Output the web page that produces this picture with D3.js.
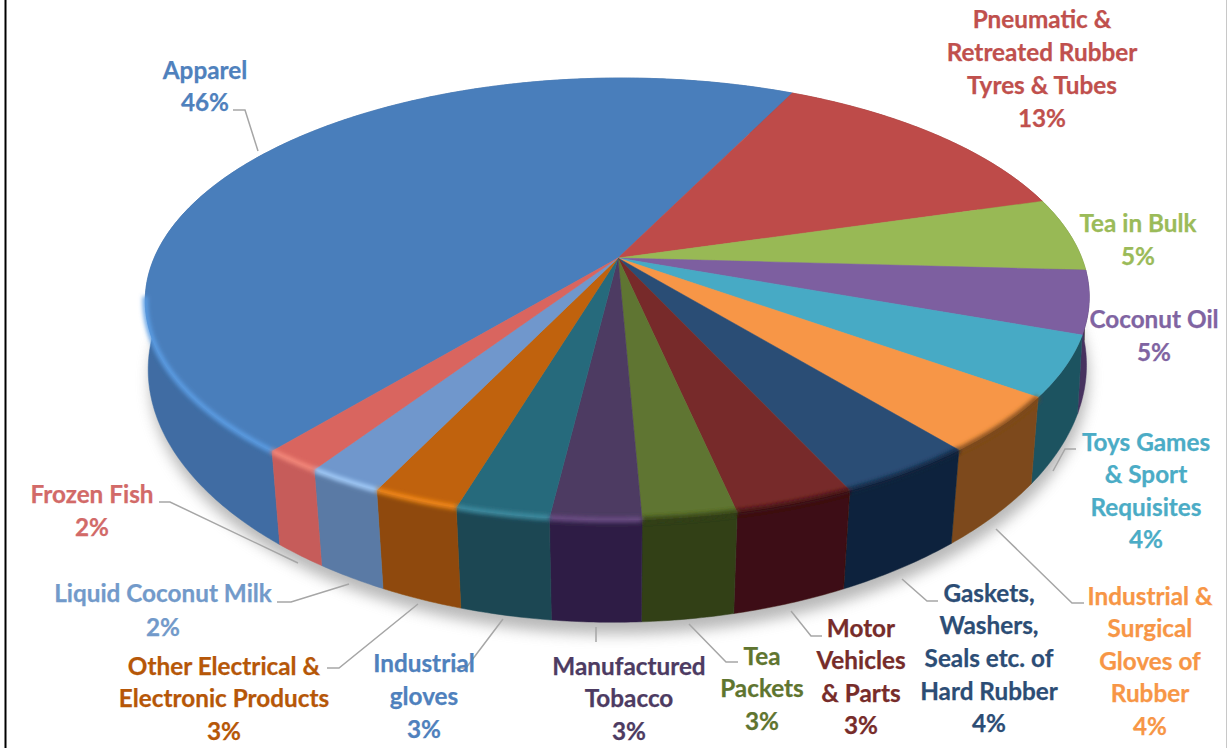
<!DOCTYPE html>
<html>
<head>
<meta charset="utf-8">
<script src="https://cdn.jsdelivr.net/npm/d3@7"></script>
<style>
  html, body { margin: 0; padding: 0; background: #fff; overflow: hidden; }
  text { font-family: Lato, "Open Sans", sans-serif; font-weight: 700; font-size: 24.3px; text-anchor: middle; stroke-width: 0.25px; }
</style>
</head>
<body>
<script>
const width = 1227,
  height = 748;

// clockwise from the Apparel slice
const categories = [
  "Apparel",
  "Pneumatic & Retreated Rubber Tyres & Tubes",
  "Tea in Bulk",
  "Coconut Oil",
  "Toys Games & Sport Requisites",
  "Industrial & Surgical Gloves of Rubber",
  "Gaskets, Washers, Seals etc. of Hard Rubber",
  "Motor Vehicles & Parts",
  "Tea Packets",
  "Manufactured Tobacco",
  "Industrial gloves",
  "Other Electrical & Electronic Products",
  "Liquid Coconut Milk",
  "Frozen Fish"
];
const values = [46.2, 13.4, 5.4, 4.6, 4.4, 4.13, 4.02, 3.45, 2.7, 2.6, 2.7, 2.5, 2.2, 1.7];

const topColors = ["#4a7ebb", "#be4b48", "#98b954", "#7d5fa0", "#46aac5", "#f79646", "#2c4d75", "#772c2a", "#5f7530", "#4d3b62", "#276a7c", "#c0620a", "#6f97cc", "#d9655f"];
const sideColors = ["#3f6ca3", "#8f3836", "#6f8a3c", "#46305e", "#1f5261", "#7d4a1a", "#10243c", "#3d1012", "#303f18", "#2e1f45", "#1b4653", "#8f4a0a", "#5a7aa5", "#c65c5a"];
const rimColors = ["#5c9fe6", null, null, null, null, null, null, null, null, "#6d4d86", "#3f8ea3", "#f58a1f", "#a4cdfa", "#f58a7c"];
const labelColors = ["#4f81bd", "#c0504d", "#9bbb59", "#8064a2", "#4bacc6", "#f79646", "#2c4d75", "#772c2a", "#5f7530", "#4d3b62", "#4f81bd", "#b65708", "#729aca", "#d26a68"];

// label placement: centre x, y of the first line, line step, wrapped lines
const labelLayout = [
  { x: 205, y: 70, step: 32, lines: ["Apparel", "46%"] },
  { x: 1042, y: 19, step: 33, lines: ["Pneumatic &", "Retreated Rubber", "Tyres & Tubes", "13%"] },
  { x: 1138, y: 223, step: 33, lines: ["Tea in Bulk", "5%"] },
  { x: 1154, y: 319, step: 33, lines: ["Coconut Oil", "5%"] },
  { x: 1146, y: 442, step: 32.5, lines: ["Toys Games", "& Sport", "Requisites", "4%"] },
  { x: 1150, y: 596, step: 32.5, lines: ["Industrial &", "Surgical", "Gloves of", "Rubber", "4%"] },
  { x: 989, y: 593, step: 32.7, lines: ["Gaskets,", "Washers,", "Seals etc. of", "Hard Rubber", "4%"] },
  { x: 861, y: 628, step: 32.5, lines: ["Motor", "Vehicles", "& Parts", "3%"] },
  { x: 762, y: 656, step: 32.5, lines: ["Tea", "Packets", "3%"] },
  { x: 629, y: 666, step: 32.5, lines: ["Manufactured", "Tobacco", "3%"] },
  { x: 424, y: 663, step: 33, lines: ["Industrial", "gloves", "3%"] },
  { x: 224, y: 666, step: 32.5, lines: ["Other Electrical &", "Electronic Products", "3%"] },
  { x: 163, y: 593, step: 34, lines: ["Liquid Coconut Milk", "2%"] },
  { x: 92, y: 494, step: 33, lines: ["Frozen Fish", "2%"] }
];
const leaderLines = [
  [[233, 110], [245, 110], [258, 151]],
  [[159, 502], [170, 502], [298, 563]],
  [[277, 602], [291, 602], [349, 584]],
  [[327, 668], [339, 668], [418, 604]],
  [[452, 668], [466, 668], [503, 619]],
  [[596, 627], [596, 642]],
  [[689, 624], [726, 662], [738, 662]],
  [[791, 611], [811, 636], [822, 636]],
  [[902, 579], [927, 601], [938, 601]],
  [[996, 529], [1072, 603], [1084, 603]],
  [[1076, 449], [1065, 449], [1053, 471]]
];

const cx = 618,
  cy = 258,
  tilt = 0.1855,
  radiusX = 463.8,
  radiusY = 213.4,
  skew = -4,
  depthOffset = 69,
  depthScaleY = 1.127;

const startAngle = (-140.8 * Math.PI) / 180;

// perspective projection of the unit circle, angle clockwise from the back
function project(a) {
  const x = Math.sin(a),
    y = -Math.cos(a),
    w = 1 - tilt * y;
  return [cx + (radiusX * x + skew * y) / w, cy + (radiusY * y) / w];
}

// the bottom rim narrows a little towards the viewer
function lower(p) {
  const sx = 0.998 - (0.02 * (p[1] - cy)) / 190;
  return [cx + (p[0] - cx) * sx, cy + depthOffset + (p[1] - cy) * depthScaleY];
}

function arcPoints(a0, a1) {
  const n = Math.max(2, Math.ceil((a1 - a0) / 0.01));
  return d3.range(n + 1).map(i => project(a0 + ((a1 - a0) * i) / n));
}

const line = d3.line();

const svg = d3
  .select("body")
  .append("svg")
  .attr("width", width)
  .attr("height", height)
  .style("display", "block");

const defs = svg.append("defs");

function blurFilter(id, amount) {
  defs
    .append("filter")
    .attr("id", id)
    .attr("filterUnits", "userSpaceOnUse")
    .attr("x", 0)
    .attr("y", 0)
    .attr("width", width)
    .attr("height", height)
    .append("feGaussianBlur")
    .attr("stdDeviation", amount);
}
blurFilter("soft", 0.7);
blurFilter("rim", 2);
blurFilter("shadow", 7);

const slices = d3
  .pie()
  .sort(null)
  .startAngle(startAngle)
  .endAngle(startAngle + 2 * Math.PI)(values);

// page edges
svg.append("rect").attr("x", 4.5).attr("y", 0).attr("width", 2).attr("height", height).attr("fill", "#000");
svg.append("rect").attr("x", 1226).attr("y", 0).attr("width", 1).attr("height", height).attr("fill", "#c8c8c8");

// shadow under the pie
const outline = arcPoints(startAngle, startAngle + 2 * Math.PI).map(lower);
svg
  .append("path")
  .attr("d", line(outline) + "Z")
  .attr("transform", "translate(2,12)")
  .attr("fill", "#8a8a8a")
  .attr("opacity", 0.6)
  .attr("filter", "url(#shadow)");

const pieGroup = svg.append("g").attr("filter", "url(#soft)");

// sides first, the top face covers what is behind
pieGroup
  .selectAll("path.side")
  .data(slices)
  .join("path")
  .attr("class", "side")
  .attr("d", d => {
    const rim = arcPoints(d.startAngle, d.endAngle);
    return line(rim.concat(rim.map(lower).reverse())) + "Z";
  })
  .attr("fill", (d, i) => sideColors[i])
  .attr("stroke", (d, i) => sideColors[i])
  .attr("stroke-width", 0.5);

pieGroup
  .selectAll("path.face")
  .data(slices)
  .join("path")
  .attr("class", "face")
  .attr("d", d => line([[cx, cy]].concat(arcPoints(d.startAngle, d.endAngle))) + "Z")
  .attr("fill", (d, i) => topColors[i])
  .attr("stroke", (d, i) => topColors[i])
  .attr("stroke-width", 0.5);

// darker lip on the front right where the face meets the side
pieGroup
  .selectAll("path.lip")
  .data(slices.filter((d, i) => i >= 5 && i <= 8))
  .join("path")
  .attr("class", "lip")
  .attr("d", d => line(arcPoints(d.startAngle, d.endAngle)))
  .attr("fill", "none")
  .attr("stroke", d => sideColors[d.index])
  .attr("stroke-width", 5)
  .attr("filter", "url(#rim)");

// highlight along the front left edge, apparel only on its lower part
const rimLimit = (-100 * Math.PI) / 180;
pieGroup
  .selectAll("path.rim")
  .data(slices.filter((d, i) => rimColors[i]))
  .join("path")
  .attr("class", "rim")
  .attr("d", d => line(arcPoints(d.startAngle, d.index === 0 ? rimLimit : d.endAngle)))
  .attr("fill", "none")
  .attr("stroke", d => rimColors[d.index])
  .attr("stroke-width", 5)
  .attr("filter", "url(#rim)");

// leader lines
svg
  .selectAll("path.leader")
  .data(leaderLines)
  .join("path")
  .attr("class", "leader")
  .attr("d", line)
  .attr("fill", "none")
  .attr("stroke", "#a6a6a6")
  .attr("stroke-width", 1.5);

// labels
const labels = svg
  .selectAll("text.label")
  .data(categories)
  .join("text")
  .attr("class", "label")
  .attr("fill", (d, i) => labelColors[i])
  .attr("stroke", (d, i) => labelColors[i]);

labels
  .selectAll("tspan")
  .data((d, i) => labelLayout[i].lines.map((t, j) => ({ t, x: labelLayout[i].x, y: labelLayout[i].y + j * labelLayout[i].step })))
  .join("tspan")
  .attr("x", d => d.x)
  .attr("y", d => d.y)
  .attr("dy", "0.35em")
  .text(d => d.t);
</script>
</body>
</html>
